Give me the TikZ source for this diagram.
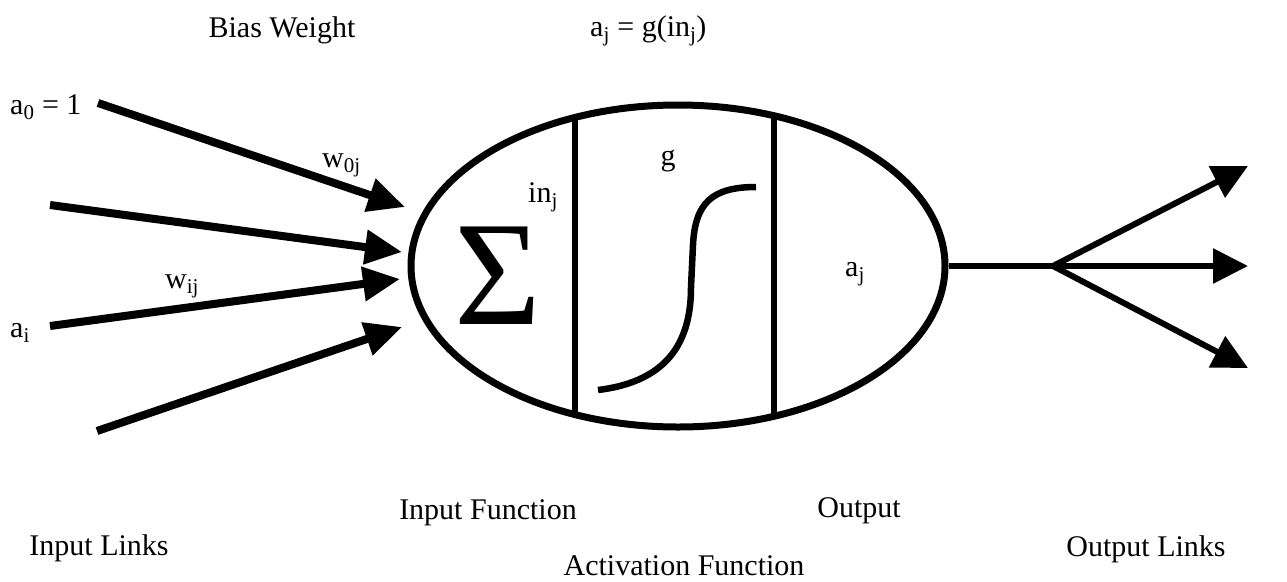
\documentclass[tikz,border=0pt]{standalone}
\usepackage{fontspec}
\setmainfont{Liberation Serif}
\usetikzlibrary{arrows.meta,shapes.geometric}
\newcommand{\sbs}[1]{\textsubscript{#1}}
\begin{document}
\begin{tikzpicture}[x=1pt,y=-1pt,
  lbl/.style={font=\fontsize{30}{32}\selectfont, inner sep=0pt, anchor=base west},
  lblc/.style={font=\fontsize{30}{32}\selectfont, inner sep=0pt, anchor=base},
  inarrow/.style={line width=8pt, -{Triangle[length=37pt,width=33pt]}},
  outarrow/.style={line width=6pt, -{Triangle[length=35pt,width=34pt]}},
  divider/.style={line width=6pt},
  curve/.style={line width=6.5pt}]
\useasboundingbox (0,0) rectangle (1287,581);
% neuron body
\node[draw, ellipse, line width=7pt, minimum width=534pt, minimum height=322pt, inner sep=0pt] (neuron) at (678,266) {};
\begin{scope}
  \clip (678,266) ellipse [x radius=267pt, y radius=161pt];
  \draw[divider] (575,90) -- (575,440);
  \draw[divider] (774,90) -- (774,440);
\end{scope}
% sigma and labels inside
\node[inner sep=0pt, font=\fontsize{149}{149}\selectfont] (sigma) at (498,276) {Σ};
\node[lbl] (inj) at (528,202) {in\sbs{j}};
\node[lblc] (g) at (668,165) {g};
\node[lbl] (aj) at (845,276) {a\sbs{j}};
% sigmoid
\coordinate (s0) at (598,390);
\coordinate (s1) at (691,287);
\coordinate (s2) at (693,245);
\coordinate (s3) at (756,187);
\draw[curve] (s0) .. controls (672,381) and (691,337) .. (s1) -- (s2) .. controls (695,203) and (712,187) .. (s3);
% input arrows
\coordinate (i1s) at (98,103);  \coordinate (i1e) at (405,207);
\coordinate (i2s) at (50,205);  \coordinate (i2e) at (402,252);
\coordinate (i3s) at (50,326);  \coordinate (i3e) at (400,279);
\coordinate (i4s) at (97,431);  \coordinate (i4e) at (402,327);
\draw[inarrow] (i1s) -- (i1e);
\draw[inarrow] (i2s) -- (i2e);
\draw[inarrow] (i3s) -- (i3e);
\draw[inarrow] (i4s) -- (i4e);
% output
\coordinate (fork) at (1053,266);
\coordinate (o1) at (1248,166);
\coordinate (o2) at (1248,266);
\coordinate (o3) at (1248,368);
\draw[line width=6pt] (neuron.east) -- (fork);
\draw[outarrow] (fork) -- (o1);
\draw[outarrow] (fork) -- (o2);
\draw[outarrow] (fork) -- (o3);
% labels
\node[lblc] (bias) at (282,37) {Bias Weight};
\node[lbl] (act) at (590,36) {a\sbs{j} = g(in\sbs{j})};
\node[lbl] (a0) at (10,114) {a\sbs{0} = 1};
\node[lbl] (w0j) at (322,167) {w\sbs{0j}};
\node[lbl] (wij) at (165,288) {w\sbs{ij}};
\node[lbl] (ai) at (10,337) {a\sbs{i}};
\node[lblc] (inf) at (488,519) {Input Function};
\node[lblc] (outp) at (859,517) {Output};
\node[lblc] (inl) at (99,555) {Input Links};
\node[lblc] (outl) at (1146,556) {Output Links};
\node[lblc] (actf) at (684,575) {Activation Function};
\end{tikzpicture}
\end{document}
